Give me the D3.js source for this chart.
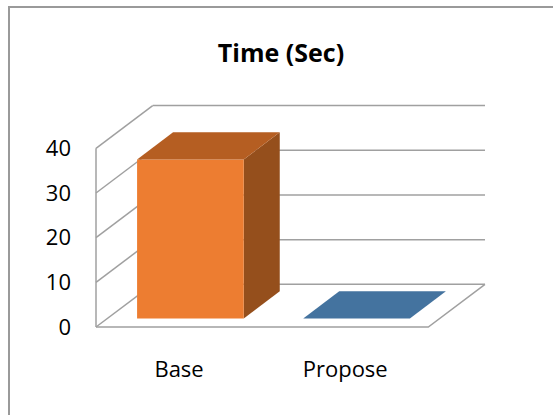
<!DOCTYPE html>
<html>
<head>
<meta charset="utf-8">
<script src="https://cdn.jsdelivr.net/npm/d3@7/dist/d3.min.js"></script>
<style>
  html, body { margin: 0; padding: 0; background: #fff; }
  svg { display: block; }
</style>
</head>
<body>
<svg id="chart" width="553" height="415"></svg>
<script>
const categories = ["Base", "Propose"];
const values = [35.6, 0];
const yTicks = [0, 10, 20, 30, 40];
const title = "Time (Sec)";

const svg = d3.select("#chart");
const W = 553, H = 415;

// chart area border
svg.append("path")
  .attr("d", `M9,${H + 5} V7 H${W + 5}`)
  .attr("fill", "none")
  .attr("stroke", "#9a9a9a")
  .attr("stroke-width", 2);

// 3D geometry
const front = { x0: 96, x1: 428.3, y0: 327, y1: 148.3 };
const depth = { dx: 56.7, dy: -42.7 };
const barDepth = [0.2, 0.835];

const y = d3.scaleLinear().domain([0, 40]).range([front.y0, front.y1]);
const x = d3.scaleBand().domain(categories).range([front.x0, front.x1])
  .paddingInner(0.358).paddingOuter(0.179);

const gridColor = "#a0a0a0";
const g = svg.append("g");

// back wall gridlines
g.selectAll(".backgrid").data(yTicks).join("line")
  .attr("x1", front.x0 + depth.dx).attr("x2", front.x1 + depth.dx)
  .attr("y1", d => y(d) + depth.dy).attr("y2", d => y(d) + depth.dy)
  .attr("stroke", gridColor).attr("stroke-width", 1.5);

// side wall diagonals
g.selectAll(".sidegrid").data(yTicks).join("line")
  .attr("x1", front.x0).attr("x2", front.x0 + depth.dx)
  .attr("y1", d => y(d)).attr("y2", d => y(d) + depth.dy)
  .attr("stroke", gridColor).attr("stroke-width", 1.5);

// front vertical axis line
g.append("line")
  .attr("x1", front.x0).attr("x2", front.x0)
  .attr("y1", y(0)).attr("y2", y(40))
  .attr("stroke", gridColor).attr("stroke-width", 1.5);

// floor
g.append("path")
  .attr("d", `M${front.x0},${y(0)} H${front.x1} L${front.x1 + depth.dx},${y(0) + depth.dy}`)
  .attr("fill", "none").attr("stroke", gridColor).attr("stroke-width", 1.5);

// bars
const faceFront = ["#ED7D31", "#4472A0"];
const faceTop = ["#B55E22", "#44739F"];
const faceSide = ["#954F1C", "#335A7E"];

const pt = (px, py, f) => [px + depth.dx * f, py + depth.dy * f];
const poly = pts => "M" + pts.map(p => p.join(",")).join("L") + "Z";

categories.forEach((c, i) => {
  const xl = x(c), xr = x(c) + x.bandwidth();
  const yb = y(0), yt = y(values[i]);
  const [f0, f1] = barDepth;
  const bars = svg.append("g");
  // right side
  bars.append("path")
    .attr("d", poly([pt(xr, yb, f0), pt(xr, yb, f1), pt(xr, yt, f1), pt(xr, yt, f0)]))
    .attr("fill", faceSide[i]);
  // front
  bars.append("path")
    .attr("d", poly([pt(xl, yb, f0), pt(xr, yb, f0), pt(xr, yt, f0), pt(xl, yt, f0)]))
    .attr("fill", faceFront[i]);
  // top
  bars.append("path")
    .attr("d", poly([pt(xl, yt, f0), pt(xr, yt, f0), pt(xr, yt, f1), pt(xl, yt, f1)]))
    .attr("fill", faceTop[i]);
});

// y tick labels
svg.selectAll(".ylab").data(yTicks).join("text")
  .attr("x", 71).attr("y", d => y(d))
  .attr("dy", "0.35em")
  .attr("text-anchor", "end")
  .attr("font-family", "Open Sans, sans-serif")
  .attr("font-size", 22)
  .attr("fill", "#000")
  .text(d => d);

// x category labels
svg.selectAll(".xlab").data(categories).join("text")
  .attr("x", d => x(d) + x.bandwidth() / 2)
  .attr("y", 377)
  .attr("text-anchor", "middle")
  .attr("font-family", "Open Sans, sans-serif")
  .attr("font-size", 22)
  .attr("fill", "#000")
  .text(d => d);

// title
svg.append("text")
  .attr("x", 281).attr("y", 62)
  .attr("text-anchor", "middle")
  .attr("font-family", "Open Sans, sans-serif")
  .attr("font-weight", "bold")
  .attr("font-size", 25)
  .attr("fill", "#000")
  .text(title);
</script>
</body>
</html>
